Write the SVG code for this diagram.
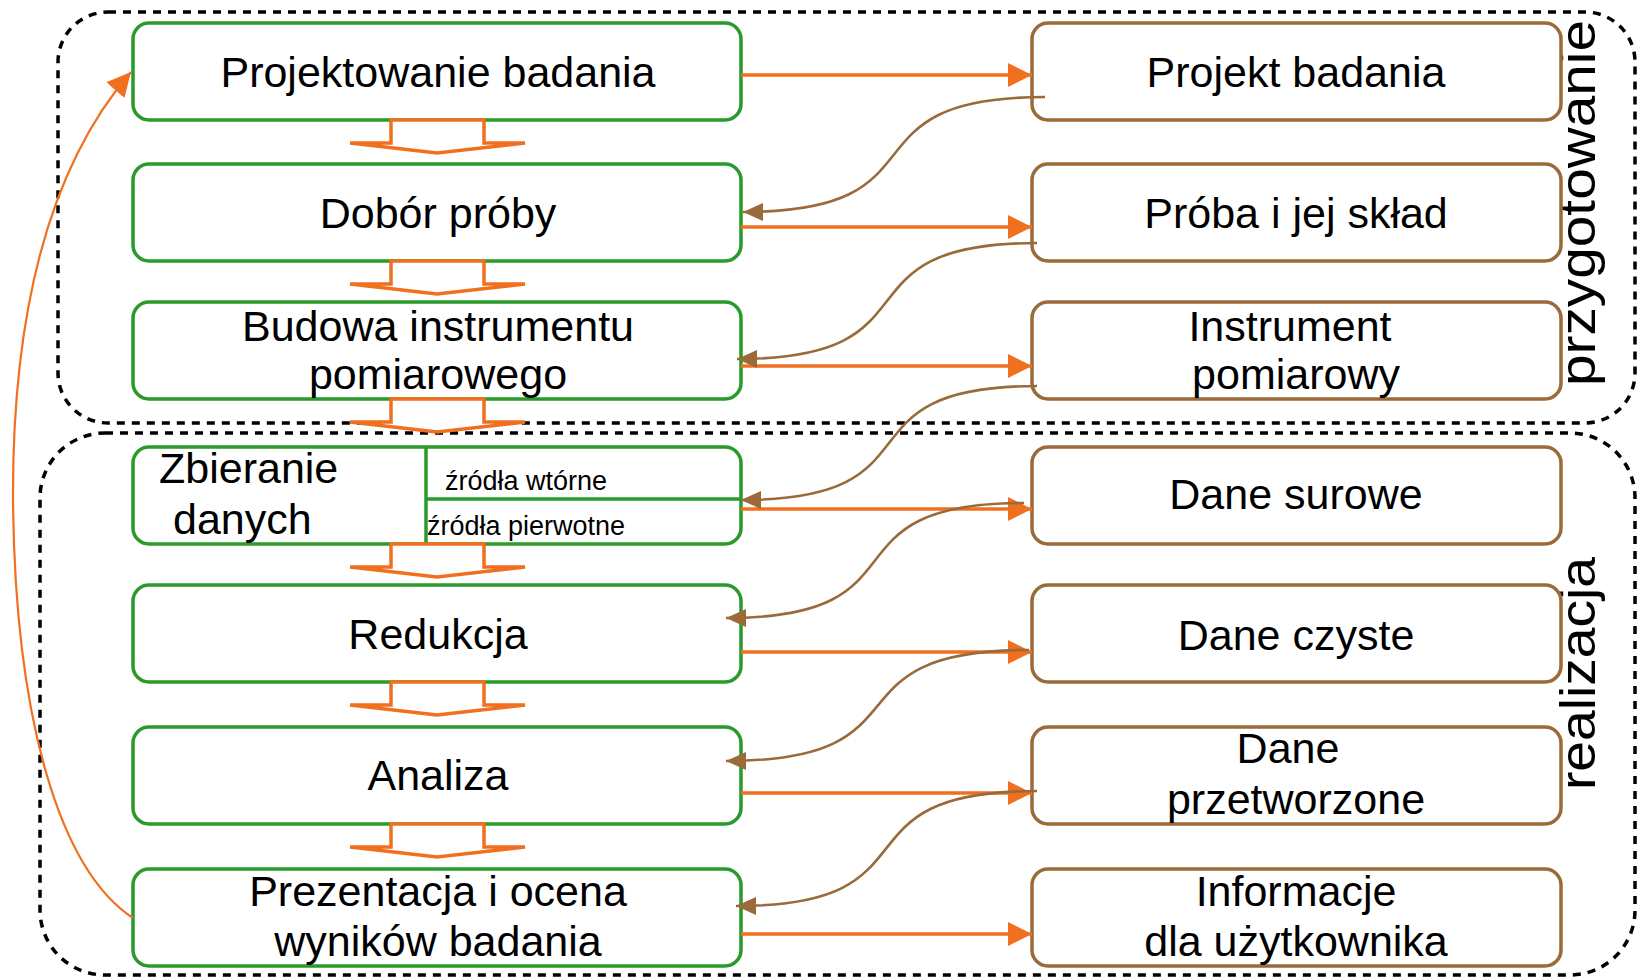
<svg xmlns="http://www.w3.org/2000/svg" width="1640" height="979" viewBox="0 0 1640 979">
<defs>
<style>
.bg{fill:#ffffff}
.region{fill:none;stroke:#000;stroke-width:3.5;stroke-dasharray:8 7}
.gbox{fill:#fff;stroke:#2a9a2a;stroke-width:3.5}
.bbox{fill:#fff;stroke:#9a6a3a;stroke-width:3.5}
.div{fill:none;stroke:#2a9a2a;stroke-width:3.5}
.t{font-family:"Liberation Sans",Arial,sans-serif;font-size:43px;fill:#000;text-anchor:middle}
.ts{font-family:"Liberation Sans",Arial,sans-serif;font-size:27px;fill:#000}
.tl{font-family:"Liberation Sans",Arial,sans-serif;font-size:50px;fill:#000}
.oa{fill:none;stroke:#f07020;stroke-width:3.5;marker-end:url(#ao)}
.ba{fill:none;stroke:#9a6a3a;stroke-width:2.6;marker-end:url(#ab)}
.hollow{fill:#fff;stroke:#f07020;stroke-width:3.5;stroke-linejoin:miter}
.big{fill:none;stroke:#f07020;stroke-width:2.2;marker-end:url(#aob)}
</style>
<marker id="ao" viewBox="0 0 24 24" markerWidth="24" markerHeight="24" refX="24" refY="12" orient="auto" markerUnits="userSpaceOnUse"><path d="M0,0 L24,12 L0,24 z" fill="#f07020"/></marker>
<marker id="ab" viewBox="0 0 20 18" markerWidth="20" markerHeight="18" refX="20" refY="9" orient="auto" markerUnits="userSpaceOnUse"><path d="M0,0 L20,9 L0,18 z" fill="#9a6a3a"/></marker>
<marker id="aob" viewBox="0 0 24 24" markerWidth="24" markerHeight="24" refX="24" refY="12" orient="auto" markerUnits="userSpaceOnUse"><path d="M0,0 L24,12 L0,24 z" fill="#f07020"/></marker>
</defs>
<rect class="bg" x="0" y="0" width="1640" height="979"/>

<g id="regions">
<rect id="region-przygotowanie" class="region" x="58" y="12" width="1577" height="411" rx="50" ry="50"/>
<rect id="region-realizacja" class="region" x="40" y="433" width="1595" height="542" rx="65" ry="65"/>
<text class="tl" transform="translate(1595,386) rotate(-90)" textLength="366" lengthAdjust="spacingAndGlyphs">przygotowanie</text>
<text class="tl" transform="translate(1595,790) rotate(-90)" textLength="233" lengthAdjust="spacingAndGlyphs">realizacja</text>
</g>

<g id="n-projektowanie"><rect class="gbox" x="133" y="23" width="608" height="97" rx="16"/><text class="t" x="438" y="87">Projektowanie badania</text></g>
<g id="n-dobor"><rect class="gbox" x="133" y="164" width="608" height="97" rx="16"/><text class="t" x="438" y="228">Dobór próby</text></g>
<g id="n-budowa"><rect class="gbox" x="133" y="302" width="608" height="97" rx="16"/><text class="t" x="438" y="341">Budowa instrumentu</text><text class="t" x="438" y="389">pomiarowego</text></g>
<g id="n-zbieranie"><rect class="gbox" x="133" y="447" width="608" height="97" rx="16"/>
<path class="div" d="M426,447 V544 M426,499 H741"/>
<text class="t" x="159" y="483" style="text-anchor:start">Zbieranie</text>
<text class="t" x="173" y="534" style="text-anchor:start">danych</text>
<text class="ts" x="445" y="490">źródła wtórne</text>
<text class="ts" x="427" y="535">źródła pierwotne</text></g>
<g id="n-redukcja"><rect class="gbox" x="133" y="585" width="608" height="97" rx="16"/><text class="t" x="438" y="649">Redukcja</text></g>
<g id="n-analiza"><rect class="gbox" x="133" y="727" width="608" height="97" rx="16"/><text class="t" x="438" y="790">Analiza</text></g>
<g id="n-prezentacja"><rect class="gbox" x="133" y="869" width="608" height="97" rx="16"/><text class="t" x="438" y="906">Prezentacja i ocena</text><text class="t" x="438" y="956">wyników badania</text></g>

<g id="n-projekt"><rect class="bbox" x="1032" y="23" width="529" height="97" rx="16"/><text class="t" x="1296" y="87">Projekt badania</text></g>
<g id="n-proba"><rect class="bbox" x="1032" y="164" width="529" height="97" rx="16"/><text class="t" x="1296" y="228">Próba i jej skład</text></g>
<g id="n-instrument"><rect class="bbox" x="1032" y="302" width="529" height="97" rx="16"/><text class="t" x="1290" y="341">Instrument</text><text class="t" x="1296" y="389">pomiarowy</text></g>
<g id="n-surowe"><rect class="bbox" x="1032" y="447" width="529" height="97" rx="16"/><text class="t" x="1296" y="509">Dane surowe</text></g>
<g id="n-czyste"><rect class="bbox" x="1032" y="585" width="529" height="97" rx="16"/><text class="t" x="1296" y="650">Dane czyste</text></g>
<g id="n-przetworzone"><rect class="bbox" x="1032" y="727" width="529" height="97" rx="16"/><text class="t" x="1288" y="763">Dane</text><text class="t" x="1296" y="814">przetworzone</text></g>
<g id="n-informacje"><rect class="bbox" x="1032" y="869" width="529" height="97" rx="16"/><text class="t" x="1296" y="906">Informacje</text><text class="t" x="1296" y="956">dla użytkownika</text></g>

<g id="connectors">
<polygon class="hollow" points="391,120 391,143 350,143 437,153 525,143 484,143 484,120"/>
<polygon class="hollow" points="391,261 391,284 350,284 437,294 525,284 484,284 484,261"/>
<polygon class="hollow" points="391,399 391,422 350,422 437,432 525,422 484,422 484,399"/>
<polygon class="hollow" points="391,544 391,567 350,567 437,577 525,567 484,567 484,544"/>
<polygon class="hollow" points="391,682 391,705 350,705 437,715 525,705 484,705 484,682"/>
<polygon class="hollow" points="391,824 391,847 350,847 437,857 525,847 484,847 484,824"/>

<path class="oa" d="M741,75 H1032"/>
<path class="oa" d="M741,227 H1032"/>
<path class="oa" d="M741,366 H1032"/>
<path class="oa" d="M741,509 H1032"/>
<path class="oa" d="M741,652 H1032"/>
<path class="oa" d="M741,793 H1032"/>
<path class="oa" d="M741,934 H1032"/>

<path class="ba" d="M1045,97 C834,97 954,212 743,212"/>
<path class="ba" d="M1037,243 C827,243 947,359 737,359"/>
<path class="ba" d="M1037,386 C829,386 949,500 741,500"/>
<path class="ba" d="M1024,503 C815,503 935,618 726,618"/>
<path class="ba" d="M1029,650 C818,650 938,761 726,761"/>
<path class="ba" d="M1037,791 C826,791 946,906 736,906"/>

<path class="big" d="M133,918 C60,870 15,720 13,500 C12,300 55,160 131,72"/>
</g>
</svg>
